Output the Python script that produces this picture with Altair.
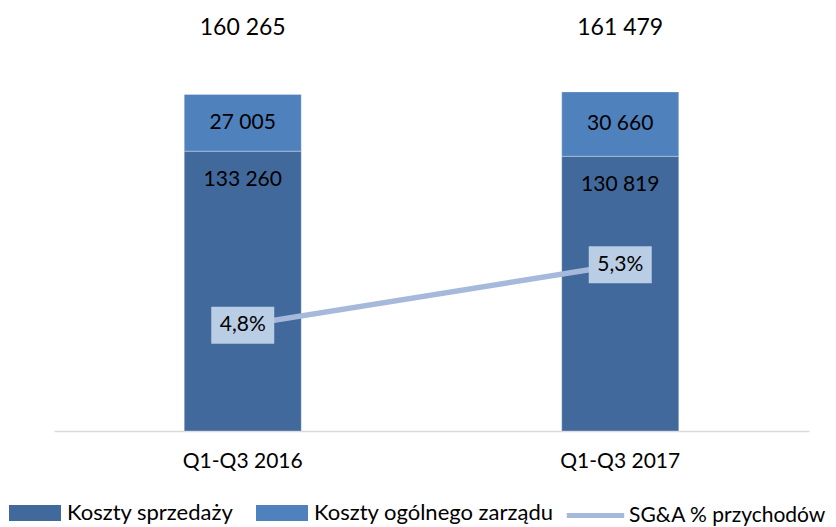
import altair as alt
import pandas as pd

categories = ["Q1-Q3 2016", "Q1-Q3 2017"]
sales_costs = [133260, 130819]
admin_costs = [27005, 30660]
sga_pct = [4.8, 5.3]
series_names = ["Koszty sprzedaży", "Koszty ogólnego zarządu"]
line_name = "SG&A % przychodów"

bar_colors = ["#41699B", "#4F81BD"]
line_color = "#A7B9DA"
box_color = "#B9CDE5"
FONT = "Lato"

rows = []
for i, c in enumerate(categories):
    rows.append({"category": c, "series": series_names[0], "value": sales_costs[i], "order": 0})
    rows.append({"category": c, "series": series_names[1], "value": admin_costs[i], "order": 1})
long_df = pd.DataFrame(rows)

wide_df = pd.DataFrame({
    "category": categories,
    "sales": sales_costs,
    "admin": admin_costs,
    "pct": sga_pct,
    "lname": [line_name] * len(categories),
})
wide_df["total"] = wide_df["sales"] + wide_df["admin"]

x_enc = alt.X(
    "category:N",
    sort=categories,
    scale=alt.Scale(paddingInner=0.69, paddingOuter=0.345),
    axis=alt.Axis(
        title=None, labelAngle=0, ticks=False, grid=False,
        domainColor="#D9D9D9", domainWidth=1.5,
        labelFont=FONT, labelFontSize=21, labelColor="#000000",
        labelPadding=19,
    ),
)
y_bar_scale = alt.Scale(domain=[0, 180000])
y_pct_scale = alt.Scale(domain=[3.926, 7.05])

rect_path = "M-1,-0.31L1,-0.31L1,0.31L-1,0.31Z"

bars = alt.Chart(long_df).mark_bar(stroke="#ffffff", strokeWidth=0.6, strokeOpacity=0.5).encode(
    x=x_enc,
    y=alt.Y("value:Q", stack="zero", scale=y_bar_scale, axis=None),
    color=alt.Color(
        "series:N",
        scale=alt.Scale(domain=series_names, range=bar_colors),
        legend=alt.Legend(
            title=None, orient="none", legendX=-45, legendY=434,
            direction="horizontal", symbolType=rect_path, symbolSize=2704,
            symbolStrokeWidth=0, symbolOpacity=1,
            labelFont=FONT, labelFontSize=22, labelColor="#000000",
            labelOffset=6, columnPadding=22, labelLimit=0,
        ),
    ),
    order=alt.Order("order:Q", sort="ascending"),
)

sales_lbl = alt.Chart(wide_df).transform_calculate(
    lab="replace(format(datum.sales, ','), ',', ' ')"
).mark_text(font=FONT, fontSize=21, color="#000000", dy=29, baseline="middle").encode(
    x=x_enc,
    y=alt.Y("sales:Q", scale=y_bar_scale, axis=None),
    text="lab:N",
)

admin_lbl = alt.Chart(wide_df).transform_calculate(
    mid="datum.sales + datum.admin / 2",
    lab="replace(format(datum.admin, ','), ',', ' ')",
).mark_text(font=FONT, fontSize=21, color="#000000", baseline="middle").encode(
    x=x_enc,
    y=alt.Y("mid:Q", scale=y_bar_scale, axis=None),
    text="lab:N",
)

total_lbl = alt.Chart(wide_df).transform_calculate(
    lab="replace(format(datum.total, ','), ',', ' ')"
).mark_text(font=FONT, fontSize=23, color="#000000", baseline="middle").encode(
    x=x_enc,
    y=alt.value(-25),
    text="lab:N",
)

line = alt.Chart(wide_df).mark_line(strokeWidth=5.5).encode(
    x=x_enc,
    y=alt.Y("pct:Q", scale=y_pct_scale, axis=None),
    stroke=alt.Stroke(
        "lname:N",
        scale=alt.Scale(domain=[line_name], range=[line_color]),
        legend=alt.Legend(
            title=None, orient="none", legendX=510, legendY=431,
            symbolType="stroke", symbolSize=3300, symbolStrokeWidth=5,
            labelFont=FONT, labelFontSize=21, labelColor="#000000",
            labelOffset=2, labelLimit=0,
        ),
    ),
)

box_path = "M-1,-0.587L1,-0.587L1,0.587L-1,0.587Z"
boxes = alt.Chart(wide_df).mark_point(
    shape=box_path, filled=True, size=3969, color=box_color, opacity=1, strokeWidth=0
).encode(
    x=x_enc,
    y=alt.Y("pct:Q", scale=y_pct_scale, axis=None),
)

pct_lbl = alt.Chart(wide_df).transform_calculate(
    lab="replace(format(datum.pct, '.1f'), '.', ',') + '%'"
).mark_text(font=FONT, fontSize=21, color="#000000", baseline="middle").encode(
    x=x_enc,
    y=alt.Y("pct:Q", scale=y_pct_scale, axis=None),
    text="lab:N",
)

bar_group = alt.layer(bars, sales_lbl, admin_lbl, total_lbl)
line_group = alt.layer(line, boxes, pct_lbl)

chart = alt.layer(bar_group, line_group).resolve_scale(
    y="independent"
).properties(
    width=755,
    height=378,
    autosize=alt.AutoSizeParams(type="none"),
    padding={"left": 46, "top": 45, "right": 19, "bottom": 96},
).configure(font=FONT).configure_view(strokeWidth=0, stroke="transparent")

chart.save("out.html", embed_options={"renderer": "svg", "actions": False})
